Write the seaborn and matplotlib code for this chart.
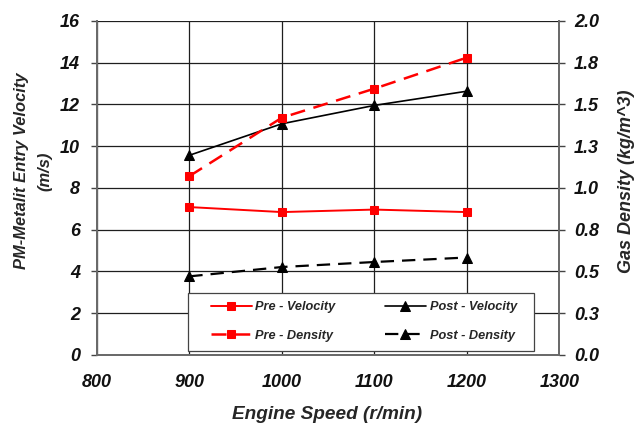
import matplotlib
matplotlib.use("Agg")
import matplotlib.pyplot as plt
from matplotlib.patches import Rectangle
import seaborn as sns
import pandas as pd

# Engine speed (r/min)
speed = [900, 1000, 1100, 1200]
# Entry velocity (m/s)
pre_velocity = [7.08, 6.84, 6.96, 6.84]
post_velocity = [9.56, 11.07, 11.95, 12.63]
# Gas density (kg/m^3)
pre_density = [1.07, 1.42, 1.594, 1.78]
post_density = [0.47, 0.526, 0.556, 0.583]

x_ticks = [800, 900, 1000, 1100, 1200, 1300]
left_ticks = [0, 2, 4, 6, 8, 10, 12, 14, 16]
right_ticks = [0.0, 0.25, 0.5, 0.75, 1.0, 1.25, 1.5, 1.75, 2.0]
right_labels = ["0.0", "0.3", "0.5", "0.8", "1.0", "1.3", "1.5", "1.8", "2.0"]

sns.set_style("white")
plt.rcParams["font.family"] = ["Liberation Sans", "DejaVu Sans"]

df = pd.DataFrame({
    "speed": speed,
    "pre_v": pre_velocity,
    "post_v": post_velocity,
    "pre_d": pre_density,
    "post_d": post_density,
})

fig = plt.figure(figsize=(6.37, 4.26), dpi=100)
ax = fig.add_axes([0.152, 0.167, 0.726, 0.784])
ax2 = ax.twinx()

font = dict(fontweight="bold", fontstyle="italic")
RED = "#ff0000"

sns.lineplot(data=df, x="speed", y="pre_v", ax=ax, color=RED, lw=1.4,
             marker="s", markersize=6, markeredgecolor=RED,
             label="Pre - Velocity", legend=False)
sns.lineplot(data=df, x="speed", y="post_v", ax=ax, color="black", lw=1.2,
             marker="^", markersize=7, markeredgecolor="black",
             label="Post - Velocity", legend=False)
sns.lineplot(data=df, x="speed", y="pre_d", ax=ax2, color=RED, lw=1.8,
             marker="s", markersize=6, markeredgecolor=RED,
             dashes=(6, 3.5), label="Pre - Density", legend=False)
sns.lineplot(data=df, x="speed", y="post_d", ax=ax2, color="black", lw=1.6,
             marker="^", markersize=7, markeredgecolor="black",
             dashes=(6, 3.6), label="Post - Density", legend=False)

ax.set_xlim(800, 1300)
ax.set_ylim(0, 16)
ax2.set_ylim(0, 2.0)
ax.set_xticks(x_ticks)
ax.set_yticks(left_ticks)
ax2.set_yticks(right_ticks)
ax2.set_yticklabels(right_labels)
ax.set_xticklabels([str(t) for t in x_ticks])
ax.set_yticklabels([str(t) for t in left_ticks])

for a in (ax, ax2):
    for lab in a.get_xticklabels() + a.get_yticklabels():
        lab.set_fontsize(13)
        lab.set_fontweight("bold")
        lab.set_fontstyle("italic")
        lab.set_color("#111111")
    a.tick_params(direction="out", length=4.5, width=1, color="#444444", pad=7.5)
    a.spines["top"].set_visible(False)
    for s in ("left", "right", "bottom"):
        a.spines[s].set_color("#6a6a6a")
        a.spines[s].set_linewidth(1.3)

ax2.tick_params(axis="y", pad=6)
ax.tick_params(axis="x", pad=9)
ax.grid(True, color="#1e1e1e", lw=0.9)
ax.set_axisbelow(True)

ax.set_xlabel("Engine Speed (r/min)", fontsize=13.7, **font)
ax.xaxis.label.set_va("center")
ax.xaxis.set_label_coords(0.513, 0.026, transform=fig.transFigure)

ax.set_ylabel("PM-Metalit Entry Velocity\n(m/s)", fontsize=11.9,
              linespacing=1.7, **font)
ax.yaxis.label.set_va("center")
ax.yaxis.set_label_coords(0.052, 0.599, transform=fig.transFigure)

ax2.set_ylabel("Gas Density (kg/m^3)", fontsize=13, **font)
ax2.yaxis.label.set_va("center")
ax2.yaxis.set_label_coords(0.983, 0.575, transform=fig.transFigure)

# legend box with its own frame
box = Rectangle((0.197, 0.011), 0.748, 0.174, transform=ax2.transAxes,
                facecolor="white", edgecolor="#444444", lw=0.9, zorder=4)
ax2.add_patch(box)

h1, l1 = ax.get_legend_handles_labels()
h2, l2 = ax2.get_legend_handles_labels()
handles = [h1[0], h2[0], h1[1], h2[1]]
labels = [l1[0], l2[0], l1[1], l2[1]]
leg = ax2.legend(handles, labels, ncol=2, loc="center left",
                 bbox_to_anchor=(0.2464, 0.1005), frameon=False,
                 borderpad=0, borderaxespad=0,
                 labelspacing=1.3, columnspacing=3.85, handlelength=3.2,
                 handletextpad=0.3,
                 prop=dict(family="Liberation Sans", size=9.2,
                           weight="bold", style="italic"))
leg.set_zorder(6)

fig.savefig("out.png", dpi=100)
